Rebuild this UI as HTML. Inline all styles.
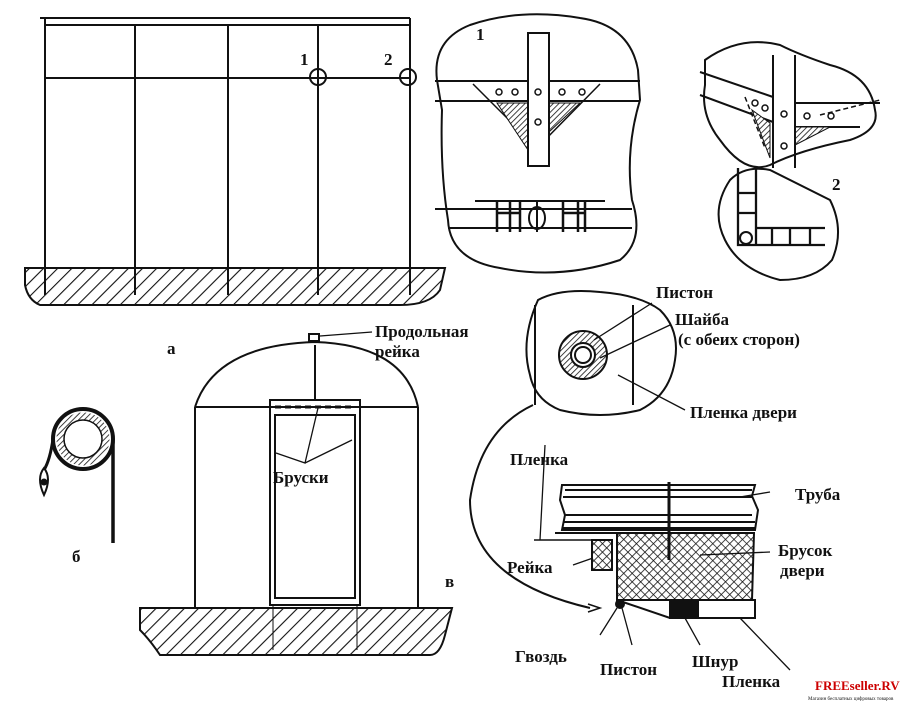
<!DOCTYPE html>
<html><head><meta charset="utf-8"><style>
body{margin:0;background:#fff}
svg{display:block}
text{font-family:"Liberation Serif",serif;font-weight:bold;fill:#111}
</style></head><body>
<svg width="900" height="712" viewBox="0 0 900 712" xmlns="http://www.w3.org/2000/svg">
<defs>
<pattern id="h" width="10" height="10" patternUnits="userSpaceOnUse" patternTransform="rotate(45)">
<rect width="10" height="10" fill="#fff"/><line x1="0" y1="0" x2="0" y2="10" stroke="#111" stroke-width="2.2"/></pattern>
<pattern id="hs" width="4" height="4" patternUnits="userSpaceOnUse" patternTransform="rotate(45)">
<rect width="4" height="4" fill="#fff"/><line x1="0" y1="0" x2="0" y2="4" stroke="#111" stroke-width="1.6"/></pattern>
<pattern id="x" width="6" height="6" patternUnits="userSpaceOnUse" patternTransform="rotate(45)">
<rect width="6" height="6" fill="#fff"/><path d="M0 0V6M0 0H6" stroke="#111" stroke-width="1.6"/></pattern>
</defs>
<g stroke="#111" stroke-width="2" fill="none">
<!-- a -->
<path d="M25 268 H445 L440 290 Q430 305 400 305 H40 Q28 300 25 285 Z" fill="url(#h)"/>
<line x1="40" y1="18" x2="410" y2="18"/><line x1="45" y1="25" x2="410" y2="25"/>
<line x1="45" y1="18" x2="45" y2="295"/><line x1="135" y1="25" x2="135" y2="295"/>
<line x1="228" y1="25" x2="228" y2="295"/><line x1="318" y1="25" x2="318" y2="295"/>
<line x1="410" y1="18" x2="410" y2="295"/>
<line x1="45" y1="78" x2="410" y2="78"/>
<circle cx="318" cy="77" r="8"/><circle cx="408" cy="77" r="8"/>
<!-- detail 1 -->
<path d="M437 80 Q432 40 470 25 Q520 8 580 18 Q630 25 638 70 L640 100 Q625 150 632 200 Q645 240 620 260 Q560 280 500 268 Q450 260 448 220 Q440 170 442 110 Z" fill="#fff"/>
<line x1="435" y1="81" x2="640" y2="81"/><line x1="435" y1="101" x2="640" y2="101"/>
<path d="M473 84 L537 148 L600 84" stroke-width="1.5"/>
<path d="M497 103 H528 V150 Z" fill="url(#hs)" stroke-width="1"/>
<path d="M549 103 H580 L549 132 Z" fill="url(#hs)" stroke-width="1"/>
<rect x="528" y="33" width="21" height="133" fill="#fff"/>
<g stroke-width="1.5"><circle cx="499" cy="92" r="3"/><circle cx="515" cy="92" r="3"/><circle cx="538" cy="92" r="3"/><circle cx="562" cy="92" r="3"/><circle cx="582" cy="92" r="3"/><circle cx="538" cy="122" r="3"/></g>
<line x1="435" y1="209" x2="632" y2="209"/><line x1="448" y1="228" x2="632" y2="228"/>
<line x1="475" y1="201" x2="605" y2="201"/>
<g stroke-width="2.5"><path d="M497 201V232M510 201V232M520 201V232M563 201V232M578 201V232M585 201V232M497 213H520M563 213H585"/></g>
<ellipse cx="537" cy="218" rx="8" ry="11"/><line x1="537" y1="200" x2="537" y2="232"/>
<!-- detail 2 -->
<path d="M705 60 Q740 35 780 45 Q800 55 830 65 Q870 75 875 110 Q880 130 850 140 Q800 150 770 165 Q745 175 720 140 Q700 115 705 85 Z" fill="#fff"/>
<path d="M700 72 L773 97 M795 103 L880 103 M700 95 L773 122 M795 127 L860 127" />
<path d="M745 97 L765 148 M820 115 L880 100" stroke-dasharray="5 3" stroke-width="1.5"/>
<path d="M752 110 L770 158 V123 Z" fill="url(#hs)" stroke-width="1"/>
<path d="M795 127 H830 L795 145 Z" fill="url(#hs)" stroke-width="1"/>
<path d="M773 55 V168 M795 55 V168"/>
<g stroke-width="1.5"><circle cx="755" cy="103" r="3"/><circle cx="765" cy="108" r="3"/><circle cx="784" cy="114" r="3"/><circle cx="807" cy="116" r="3"/><circle cx="831" cy="116" r="3"/><circle cx="784" cy="146" r="3"/></g>
<path d="M730 180 Q745 165 770 170 Q800 185 830 200 Q845 230 832 260 Q815 280 780 280 Q740 270 725 240 Q710 210 730 180 Z" fill="#fff"/>
<path d="M738 168 V245 H825 M756 168 V228 H825 M738 193H756 M738 213H756 M756 228 V245 M772 228V245 M790 228V245 M810 228V245" stroke-width="2.3"/>
<circle cx="746" cy="238" r="6"/>
<!-- б -->
<circle cx="83" cy="439" r="30" stroke-width="4"/>
<circle cx="83" cy="439" r="23" stroke="url(#hs)" stroke-width="7"/>
<circle cx="83" cy="439" r="19" stroke-width="1.5"/>
<path d="M113 439 V543" stroke-width="3.5"/>
<path d="M53 439 Q50 460 44 470" stroke-width="3"/>
<path d="M44 468 Q52 478 44 495 Q36 478 44 468 Z" stroke-width="2"/>
<circle cx="44" cy="482" r="2.5" fill="#111"/>
<!-- в -->
<path d="M140 608 H452 L445 635 Q440 655 430 655 H160 Q150 640 140 630 Z" fill="url(#h)"/>
<path d="M195 407 Q215 345 315 342 Q405 345 418 407"/>
<line x1="195" y1="407" x2="195" y2="608"/><line x1="418" y1="407" x2="418" y2="608"/>
<line x1="195" y1="407" x2="418" y2="407"/>
<line x1="315" y1="345" x2="315" y2="400"/>
<rect x="309" y="334" width="10" height="7" fill="#fff"/>
<path d="M320 336 L372 332" stroke-width="1.3"/>
<rect x="270" y="400" width="90" height="205"/>
<rect x="275" y="415" width="80" height="183"/>
<path d="M275 407 H355" stroke-dasharray="6 4" stroke-width="3"/>
<path d="M276 453 L305 463 L318 408 M305 463 L352 440" stroke-width="1.3"/>
<line x1="273" y1="605" x2="273" y2="650" stroke-width="1"/><line x1="357" y1="605" x2="357" y2="650" stroke-width="1"/>
<!-- right details -->
<path d="M538 300 Q560 288 600 292 Q640 295 660 310 Q680 330 675 360 Q670 395 640 410 Q600 420 560 410 Q535 400 530 375 Q520 340 538 300 Z" fill="#fff"/>
<line x1="535" y1="305" x2="535" y2="405"/><line x1="633" y1="305" x2="633" y2="405"/>
<circle cx="583" cy="355" r="24" fill="url(#hs)"/>
<circle cx="583" cy="355" r="12" fill="#fff"/><circle cx="583" cy="355" r="8"/>
<path d="M594 340 L652 303 M600 358 L670 325 M618 375 L685 410" stroke-width="1.3"/>
<path d="M533 405 Q480 430 470 500 Q470 580 590 608" stroke-width="2"/>
<path d="M588 604 L600 608 L588 612" stroke-width="1.5"/>
<path d="M562 485 H755 L752 496 L758 510 L755 530 H562 L565 515 L560 500 Z" fill="#fff"/>
<path d="M565 490 H752 M563 497 H752 M565 515 H752 M563 522 H755 M563 528 H755"/>
<path d="M617 533 H754 L752 600 H617 Z" fill="url(#x)"/>
<path d="M555 533 H617 V605"/>
<rect x="592" y="540" width="20" height="30" fill="url(#x)"/>
<path d="M534 540 L605 540" stroke-width="1.6"/>
<line x1="669" y1="482" x2="669" y2="560" stroke-width="3"/>
<path d="M617 600 H755 V618 H670 Z" fill="#fff"/>
<rect x="670" y="602" width="28" height="16" fill="#111"/>
<circle cx="620" cy="604" r="4" fill="#111"/>
<path d="M545 445 L540 540 M740 497 L770 492 M700 555 L770 552 M573 565 L593 558 M617 608 L600 635 M622 608 L632 645 M685 618 L700 645 M740 618 L790 670" stroke-width="1.3"/>
</g>
<g font-size="17">
<text x="300" y="65">1</text><text x="384" y="65">2</text>
<text x="476" y="40">1</text><text x="832" y="190">2</text>
<text x="167" y="354">а</text>
<text x="72" y="562">б</text>
<text x="445" y="587">в</text>
<text x="375" y="337">Продольная</text><text x="375" y="357">рейка</text>
<text x="273" y="483">Бруски</text>
<text x="656" y="298">Пистон</text>
<text x="675" y="325">Шайба</text>
<text x="678" y="345">(с обеих сторон)</text>
<text x="690" y="418">Пленка двери</text>
<text x="510" y="465">Пленка</text>
<text x="795" y="500">Труба</text>
<text x="778" y="556">Брусок</text><text x="780" y="576">двери</text>
<text x="507" y="573">Рейка</text>
<text x="515" y="662">Гвоздь</text>
<text x="600" y="675">Пистон</text>
<text x="692" y="667">Шнур</text>
<text x="722" y="687">Пленка</text>
</g>
<text x="815" y="690" font-family="Liberation Sans,sans-serif" font-size="13" fill="#c00" style="fill:#c00">FREEseller.RV</text>
<text x="808" y="700" font-size="5" style="font-weight:normal">Магазин бесплатных цифровых товаров</text>
</svg>
</body></html>
